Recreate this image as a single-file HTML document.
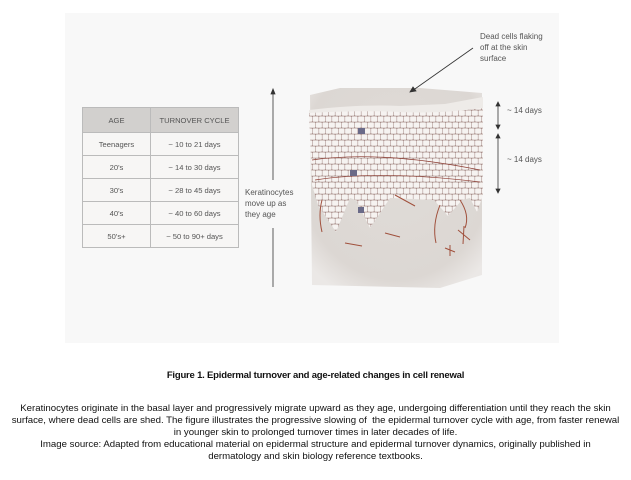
<!DOCTYPE html>
<html><head><meta charset="utf-8"><style>
body{margin:0;width:631px;height:480px;background:#fff;overflow:hidden;position:relative;font-family:"Liberation Sans",sans-serif}
.panel{position:absolute;left:65px;top:13px;width:494px;height:330px;background:#f8f8f8}
table{position:absolute;left:82px;top:107px;border-collapse:collapse;font-size:7.6px;color:#555}
td{border:1px solid #bbb;text-align:center;height:22px;padding:0;background:#f7f6f5}
th{background:#d2d0ce;font-weight:normal;height:22px;border:1px solid #bbb;color:#555}
.t{position:absolute;font-size:8px;color:#555;line-height:11px}
.cap{position:absolute;left:0;width:631px;text-align:center;color:#111}
</style></head><body>
<div class="panel"></div>
<table><tr><th style="width:65px">AGE</th><th style="width:85px">TURNOVER CYCLE</th></tr>
<tr><td>Teenagers</td><td>~ 10 to 21 days</td></tr>
<tr><td>20's</td><td>~ 14 to 30 days</td></tr>
<tr><td>30's</td><td>~ 28 to 45 days</td></tr>
<tr><td>40's</td><td>~ 40 to 60 days</td></tr>
<tr><td>50's+</td><td>~ 50 to 90+ days</td></tr></table>
<svg width="631" height="480" style="position:absolute;left:0;top:0">
<defs>
<radialGradient id="g" cx="0.5" cy="0.4" r="0.7"><stop offset="0" stop-color="#e0dcd8"/><stop offset="0.8" stop-color="#dcd7d3"/><stop offset="1" stop-color="#ebe8e6"/></radialGradient>
<pattern id="p" width="13" height="12" patternUnits="userSpaceOnUse" x="309" y="110">
<rect width="13" height="12" fill="#a08480"/>
<rect x="0.4" y="0.4" width="6" height="5.3" rx="0.8" fill="#f6f3f1"/>
<rect x="6.9" y="0.4" width="6" height="5.3" rx="0.8" fill="#f6f3f1"/>
<rect x="3.6" y="6.4" width="6" height="5.3" rx="0.8" fill="#f6f3f1"/>
<rect x="10.1" y="6.4" width="6" height="5.3" rx="0.8" fill="#f6f3f1"/>
<rect x="-2.9" y="6.4" width="6" height="5.3" rx="0.8" fill="#f6f3f1"/>
</pattern>
</defs>
<path d="M310 95 L340 88 L420 88 L482 93 L482 275 L440 288 L312 285 Z" fill="url(#g)"/>
<path d="M309 110 Q360 104 400 106 L445 104 L483 97 L483 110 Q440 116 400 112 Q350 112 309 114Z" fill="#eeebe8"/>
<path d="M309 113 Q360 110 400 112 Q440 114 483 108 L483 195 L477 212 L470 198 L462 200 L448 216 L434 200 L390 198 L370 228 L356 200 L350 198 L336 232 L318 205 L312 185 Z" fill="url(#p)"/>
<path d="M312 160 Q380 150 480 170" stroke="#8a3a30" stroke-width="0.7" fill="none"/>
<path d="M315 180 Q380 170 480 182" stroke="#8a3a30" stroke-width="0.7" fill="none"/>
<rect x="358" y="128" width="7" height="6" fill="#6a6a88"/><rect x="350" y="170" width="7" height="6" fill="#6a6a88"/><rect x="358" y="207" width="6" height="6" fill="#6a6a88"/>
<g stroke="#a0503c" stroke-width="1" fill="none">
<path d="M322 200 Q318 215 322 232"/><path d="M440 205 Q432 225 436 243"/><path d="M460 200 Q470 215 465 228"/><path d="M395 195 L415 206"/>
<path d="M458 230 L470 240 M464 226 L463 244"/><path d="M445 248 L455 252 M450 245 L450 256"/><path d="M385 233 L400 237"/><path d="M345 243 L362 246"/>
</g>
<g stroke="#333" stroke-width="0.8" fill="#333">
<line x1="273" y1="92" x2="273" y2="180"/><path d="M273 89 L271 94 L275 94Z"/>
<line x1="273" y1="228" x2="273" y2="287"/>
<line x1="473" y1="48" x2="412" y2="91"/><path d="M410 92 L413 87 L416 91Z"/>
<line x1="498" y1="104" x2="498" y2="127"/><path d="M498 102 L496 106 L500 106Z"/><path d="M498 129 L496 125 L500 125Z"/>
<line x1="498" y1="136" x2="498" y2="191"/><path d="M498 134 L496 138 L500 138Z"/><path d="M498 193 L496 189 L500 189Z"/>
</g>
</svg>
<div class="t" style="left:480px;top:31px">Dead cells flaking<br>off at the skin<br>surface</div>
<div class="t" style="left:507px;top:105px">~ 14 days</div>
<div class="t" style="left:507px;top:154px">~ 14 days</div>
<div class="t" style="left:245px;top:187px">Keratinocytes<br>move up as<br>they age</div>
<div class="cap" style="top:370px;font-size:9.5px;font-weight:bold;letter-spacing:-0.2px">Figure 1. Epidermal turnover and age-related changes in cell renewal</div>
<div class="cap" style="top:403px;font-size:9.65px;line-height:12px;letter-spacing:0px">Keratinocytes originate in the basal layer and progressively migrate upward as they age, undergoing differentiation until they reach the skin<br>surface, where dead cells are shed. The figure illustrates the progressive slowing of&nbsp; the epidermal turnover cycle with age, from faster renewal<br>in younger skin to prolonged turnover times in later decades of life.<br>Image source: Adapted from educational material on epidermal structure and epidermal turnover dynamics, originally published in<br>dermatology and skin biology reference textbooks.</div>
</body></html>
